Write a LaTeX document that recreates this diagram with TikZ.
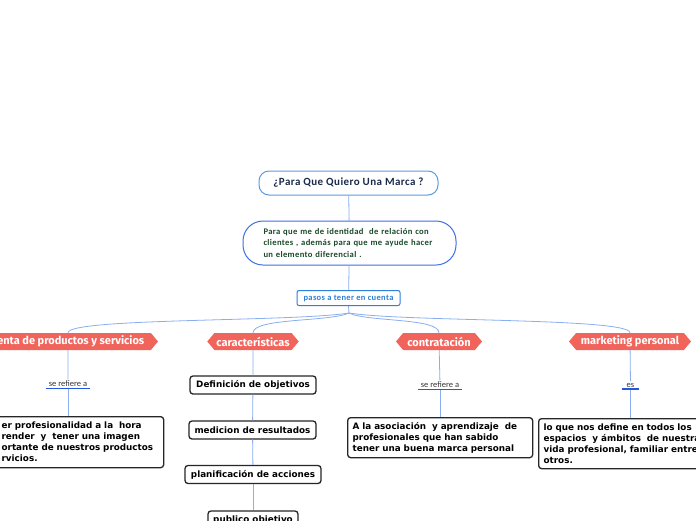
\documentclass[tikz,border=0pt]{standalone}
\usepackage{fontspec}
\setmainfont{DejaVu Sans}
\newfontfamily\ttlfont[LetterSpace=4]{Carlito}
\newfontfamily\lwfont{Carlito}
\newfontfamily\hdfont{Fira Sans}
\usetikzlibrary{shapes.symbols,calc}
\definecolor{conn}{HTML}{8AAEF0}
\definecolor{uline}{HTML}{2457E0}
\definecolor{hfill}{HTML}{F0645C}
\definecolor{ttlblue}{HTML}{5A9BE0}
\definecolor{pillblue}{HTML}{3D6FE6}
\definecolor{pasblue}{HTML}{2F7FD8}
\definecolor{dgreen}{HTML}{1B4A2A}
\definecolor{ttltext}{HTML}{1A2A4A}
\begin{document}
\begin{tikzpicture}[x=1pt,y=-1pt,
  connector/.style={draw=conn, line width=0.8pt},
  heading/.style={signal, signal to=west and east, signal pointer angle=100, fill=hfill, text=white,
    font=\hdfont\bfseries\fontsize{11}{12}\selectfont, minimum height=17pt, inner xsep=2pt, inner ysep=0pt},
  blackbox/.style={draw=black!85, line width=1.3pt, rounded corners=3pt, fill=white,
    font=\bfseries\fontsize{8.8}{11}\selectfont, inner xsep=5pt, inner ysep=3pt},
  linkword/.style={font=\lwfont\fontsize{8.5}{10}\selectfont, text=black!80, inner xsep=3pt, inner ysep=1.5pt},
  ul/.style={draw=uline, line width=1.6pt}
]
\useasboundingbox (0,0) rectangle (696,520);
\fill[white] (0,0) rectangle (696,520);

% top nodes
\node[draw=ttlblue, line width=1pt, rounded corners=10pt, minimum width=179pt, minimum height=24pt,
  font=\ttlfont\bfseries\fontsize{11}{12}\selectfont, text=ttltext] (title) at (348.5,183) {¿Para Que Quiero Una Marca ?};
\node[draw=pillblue, line width=1pt, rounded corners=20pt, minimum width=213pt, minimum height=44pt,
  text width=172pt, align=left, font=\ttlfont\bfseries\fontsize{8.6}{11.3}\selectfont, text=dgreen] (pill) at (349.5,243)
  {Para que me de identidad\ \ de relación con\\ clientes , además para que me ayude hacer\\ un elemento diferencial .};
\node[draw=pasblue, line width=1pt, rounded corners=2pt, minimum width=103pt, minimum height=15pt, inner sep=1pt,
  font=\ttlfont\bfseries\fontsize{8.5}{9}\selectfont, text=pasblue] (pasos) at (348.5,298) {pasos a tener en cuenta};
\coordinate (br) at (349,313);

% headings
\node[heading, minimum width=180pt] (h1) at (68,341.5) {venta de productos y servicios};
\node[heading, minimum width=88pt] (h2) at (253,341.5) {características};
\node[heading, minimum width=86pt] (h3) at (439,341.5) {contratación};
\node[heading, minimum width=122pt] (h4) at (630,341.5) {marketing personal};

% link words
\node[linkword] (l1) at (68,384) {se refiere a};
\node[linkword] (l3) at (440,385) {se refiere a};
\node[linkword] (l4) at (630.5,385) {es};

% detail boxes
\node[blackbox, text width=157pt, align=left, minimum height=51pt, anchor=north west] (b1) at (-4,416)
  {er profesionalidad a la\ \ hora\\ render\ \ y\ \ tener una imagen\\ ortante de nuestros productos\\ rvicios.};
\node[blackbox, text width=175pt, align=left, minimum height=40pt, anchor=north west] (b3) at (347,417)
  {A la asociación\ \ y aprendizaje\ \ de\\ profesionales que han sabido\\ tener una buena marca personal};
\node[blackbox, text width=170pt, align=left, minimum height=50pt, anchor=north west] (b4) at (538,418)
  {lo que nos define en todos los\\ espacios\ \ y ámbitos\ \ de nuestra\\ vida profesional, familiar entre\\ otros.};

\node[blackbox, minimum width=126pt, minimum height=18pt, inner ysep=1pt] (d1) at (253,385) {Definición de objetivos};
\node[blackbox, minimum width=127pt, minimum height=18pt, inner ysep=1pt] (d2) at (252.5,430) {medicion de resultados};
\node[blackbox, minimum width=136pt, minimum height=18pt, inner ysep=1pt] (d3) at (253,474.5) {planificación de acciones};
\node[blackbox, minimum width=90pt, minimum height=18pt, inner ysep=1pt] (d4) at (253,520) {publico objetivo};

% connectors
\draw[connector] (title) -- (pill);
\draw[connector] (pill) -- (pasos);
\draw[connector] (pasos.south) -- (br);
\foreach \h in {h1,h2,h3,h4}{
  \draw[connector] (br) .. controls ($(br)!0.2!(\h.north)+(0,5)$) and ($(\h.north)+(0,-15)$) .. (\h.north);
}
\draw[connector] (h1) -- (l1);
\draw[connector] (l1) -- (b1.north -| l1);
\draw[connector] (h3) -- (l3);
\draw[connector] (l3) -- (b3.north -| l3);
\draw[connector] (h4) -- (l4);
\draw[connector] (l4) -- (b4.north -| l4);
\draw[connector] (h2) -- (d1);
\draw[connector] (d1) -- (d2);
\draw[connector] (d2) -- (d3);
\draw[connector] (d3) -- (d4);

% underlines
\draw[ul] (l1.south west) -- (l1.south east);
\draw[ul] (l3.south west) -- (l3.south east);
\draw[ul] ($(l4.south west)+(-2,0)$) -- ($(l4.south east)+(2,0)$);
\end{tikzpicture}
\end{document}
